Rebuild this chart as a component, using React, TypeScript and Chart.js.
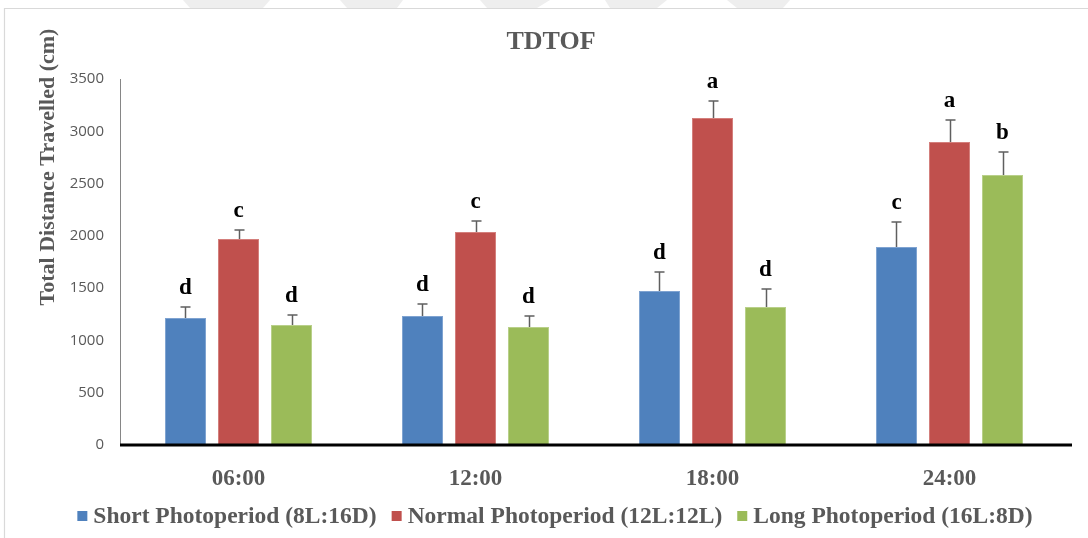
import React, { useEffect, useRef } from "react";
import { Chart, registerables } from "chart.js";

Chart.register(...registerables);

// Time points on the x axis
const categories = ["06:00", "12:00", "18:00", "24:00"];

// Series names
const seriesNames = [
  "Short Photoperiod (8L:16D)",
  "Normal Photoperiod (12L:12L)",
  "Long Photoperiod (16L:8D)",
];

// Mean total distance travelled (cm)
const shortValues = [1214, 1234, 1473, 1893];
const normalValues = [1970, 2037, 3127, 2898];
const longValues = [1148, 1128, 1320, 2582];

// Upper error (cm)
const shortErrors = [105, 115, 181, 240];
const normalErrors = [86, 105, 163, 210];
const longErrors = [96, 106, 172, 220];

// Significance letters
const shortLetters = ["d", "d", "d", "c"];
const normalLetters = ["c", "c", "a", "a"];
const longLetters = ["d", "d", "d", "b"];

// Y axis ticks
const yTicks = [0, 500, 1000, 1500, 2000, 2500, 3000, 3500];

const colors = ["#4F81BD", "#C0504D", "#9BBB59"];
const edgeColors = ["#7FA3D1", "#D47F7C", "#B9D08A"];

const SERIF = '"Liberation Serif", "Times New Roman", serif';
const SANS = '"Open Sans", "Liberation Sans", sans-serif';
const TEXT = "#595959";

const values = [shortValues, normalValues, longValues];
const errors = [shortErrors, normalErrors, longErrors];
const letters = [shortLetters, normalLetters, longLetters];

const decorPlugin = {
  id: "decor",
  beforeDraw(chart: any) {
    const ctx = chart.ctx as CanvasRenderingContext2D;
    const W = chart.width;
    const H = chart.height;
    ctx.save();
    ctx.fillStyle = "#ffffff";
    ctx.fillRect(0, 0, W, H);

    // faint page watermark along the top edge
    const marks = [
      [183, 270, 190, 263],
      [340, 403, 347, 397],
      [480, 550, 487, 537],
      [605, 667, 610, 657],
      [727, 790, 737, 783],
    ];
    ctx.fillStyle = "#eeeeee";
    marks.forEach(([a, b, c, d]) => {
      ctx.beginPath();
      ctx.moveTo(a, 0);
      ctx.lineTo(b, 0);
      ctx.lineTo(d, 8);
      ctx.lineTo(c, 8);
      ctx.closePath();
      ctx.fill();
    });

    // chart frame
    ctx.strokeStyle = "#d9d9d9";
    ctx.lineWidth = 1.2;
    ctx.beginPath();
    ctx.moveTo(4.5, H);
    ctx.lineTo(4.5, 8.5);
    ctx.lineTo(W, 8.5);
    ctx.stroke();
    ctx.restore();
  },
  afterDatasetsDraw(chart: any) {
    const ctx = chart.ctx as CanvasRenderingContext2D;
    const yScale = chart.scales.y;
    const area = chart.chartArea;
    ctx.save();

    // category axis line
    ctx.strokeStyle = "#000000";
    ctx.lineWidth = 3;
    ctx.beginPath();
    ctx.moveTo(area.left, area.bottom);
    ctx.lineTo(area.right + 4, area.bottom);
    ctx.stroke();

    values.forEach((series, d) => {
      const meta = chart.getDatasetMeta(d);
      meta.data.forEach((bar: any, i: number) => {
        const top = yScale.getPixelForValue(series[i] + errors[d][i]);
        const x = Math.round(bar.x) + 0.5;
        ctx.strokeStyle = "#5f5f5f";
        ctx.lineWidth = 1.5;
        ctx.beginPath();
        ctx.moveTo(x, bar.y);
        ctx.lineTo(x, top);
        ctx.moveTo(x - 5, top);
        ctx.lineTo(x + 5, top);
        ctx.stroke();

        ctx.fillStyle = "#000000";
        ctx.font = `bold 23px ${SERIF}`;
        ctx.textAlign = "center";
        ctx.textBaseline = "alphabetic";
        ctx.fillText(letters[d][i], bar.x, top - 13);
      });
    });
    ctx.restore();
  },
  afterDraw(chart: any) {
    const ctx = chart.ctx as CanvasRenderingContext2D;
    ctx.save();
    // title
    ctx.fillStyle = TEXT;
    ctx.font = `bold 26px ${SERIF}`;
    ctx.textAlign = "center";
    ctx.textBaseline = "middle";
    ctx.fillText("TDTOF", 551, 42);

    // y axis title
    ctx.save();
    ctx.translate(48, 167);
    ctx.rotate(-Math.PI / 2);
    ctx.font = `bold 22px ${SERIF}`;
    ctx.fillText("Total Distance Travelled (cm)", 0, 0);
    ctx.restore();

    // legend
    ctx.font = `bold 23.5px ${SERIF}`;
    ctx.textAlign = "left";
    const box = 10;
    const gapText = 6;
    const gapItem = 15;
    const widths = seriesNames.map((n) => ctx.measureText(n).width);
    const total =
      widths.reduce((s, w) => s + w, 0) +
      seriesNames.length * (box + gapText) +
      (seriesNames.length - 1) * gapItem;
    let x = 555 - total / 2;
    const y = 516;
    seriesNames.forEach((n, k) => {
      ctx.fillStyle = colors[k];
      ctx.fillRect(x, y - 5, box, box);
      x += box + gapText;
      ctx.fillStyle = TEXT;
      ctx.fillText(n, x, y + 1);
      x += widths[k] + gapItem;
    });
    ctx.restore();
  },
};

export default function App() {
  const canvasRef = useRef<HTMLCanvasElement | null>(null);

  useEffect(() => {
    document.body.style.margin = "0";
    const canvas = canvasRef.current;
    if (!canvas) return;
    const chart = new Chart(canvas, {
      type: "bar",
      data: {
        labels: categories,
        datasets: values.map((v, k) => ({
          label: seriesNames[k],
          data: v,
          backgroundColor: colors[k],
          borderColor: edgeColors[k],
          borderWidth: 1,
          categoryPercentage: 0.671,
          barPercentage: 0.774,
        })),
      },
      options: {
        animation: false,
        responsive: false,
        devicePixelRatio: 1,
        layout: { padding: { left: 0, top: 79, right: 20, bottom: 53 } },
        plugins: {
          legend: { display: false },
          title: { display: false },
          tooltip: { enabled: false },
        },
        scales: {
          x: {
            grid: { display: false },
            border: { display: false },
            ticks: {
              color: TEXT,
              padding: 12,
              font: { family: SERIF, size: 23, weight: "bold" },
            },
            afterFit(scale: any) {
              scale.height = 40;
            },
          },
          y: {
            min: 0,
            max: 3500,
            grid: { display: false, drawTicks: false },
            border: { display: true, color: "#868686", width: 1 },
            afterBuildTicks(scale: any) {
              scale.ticks = yTicks.map((v) => ({ value: v }));
            },
            ticks: {
              color: TEXT,
              padding: 16,
              font: { family: SANS, size: 15 },
              callback: (v: any) => String(v),
            },
            afterFit(scale: any) {
              scale.width = 120;
            },
          },
        },
      },
      plugins: [decorPlugin],
    });
    return () => chart.destroy();
  }, []);

  return (
    <div style={{ position: "fixed", left: 0, top: 0, width: 1088, height: 538 }}>
      <canvas ref={canvasRef} width={1088} height={538} />
    </div>
  );
}
